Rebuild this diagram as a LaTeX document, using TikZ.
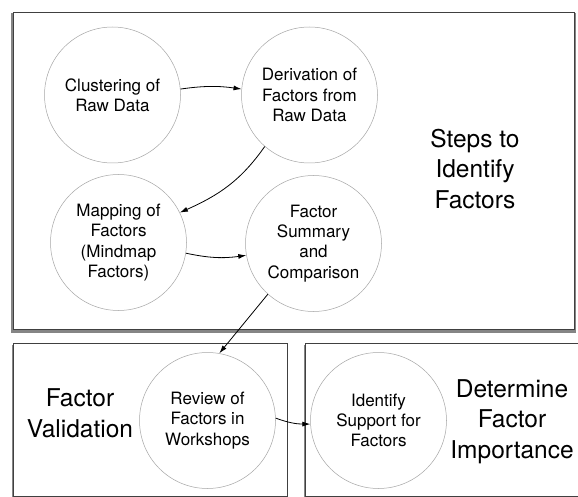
\documentclass[tikz,border=0pt]{standalone}
\usepackage{fontspec}
\setmainfont{TeX Gyre Heros}
\usetikzlibrary{arrows.meta,shadows}

\tikzset{
  stage/.style={draw=black!75, fill=white, line width=0.6pt,
    drop shadow={shadow xshift=0pt, shadow yshift=-2.5pt, shadow scale=1.008,
      fill=black!80, opacity=0.6}},
  task/.style={circle, draw=black!35, line width=0.5pt, minimum size=136pt,
    inner sep=0pt, align=center, font=\fontsize{17}{20.3}\selectfont},
  heading/.style={align=center, font=\fontsize{24.5}{30.5}\selectfont},
  flow/.style={-{Latex[length=8pt,width=5pt]}, line width=0.8pt}
}

\begin{document}
\begin{tikzpicture}[x=1pt,y=-1pt]
  \useasboundingbox (0,0) rectangle (578,497);
  % the three stages
  \path[stage] (13,12) rectangle (574,329);
  \path[stage] (13,343) rectangle (287,496);
  \path[stage] (305,343) rectangle (592,496);
  % stage titles
  \node[heading] (identhead) at (475,169) {Steps to\\Identify\\Factors};
  \node[heading] (validhead) at (80,413.5) {Factor\\Validation};
  \node[heading] (importhead) at (512,421.5) {Determine\\Factor\\Importance};
  % steps
  \node[task] (clust) at (112.5,95) {Clustering of\\Raw Data};
  \node[task] (deriv) at (309.5,95) {Derivation of\\Factors from\\Raw Data};
  \node[task] (mapping) at (118.5,242.5) {Mapping of\\Factors\\(Mindmap\\Factors)};
  \node[task] (summary) at (313.5,243.5) {Factor\\Summary\\and\\Comparison};
  \node[task] (review) at (207.5,420.5) {Review of\\Factors in\\Workshops};
  \node[task] (support) at (378.5,420.5) {Identify\\Support for\\Factors};
  % flow between the steps
  \draw[flow] (clust.5) to[bend left=8] (deriv.175);
  \draw[flow] (deriv.229) to[out=235,in=24] (mapping.26);
  \draw[flow] (mapping.-9) to[bend right=10] (summary.190);
  \draw[flow] (summary.228) -- (review.80);
  \draw[flow] (review.2) to[out=-20,in=180] (support.183);
\end{tikzpicture}
\end{document}
